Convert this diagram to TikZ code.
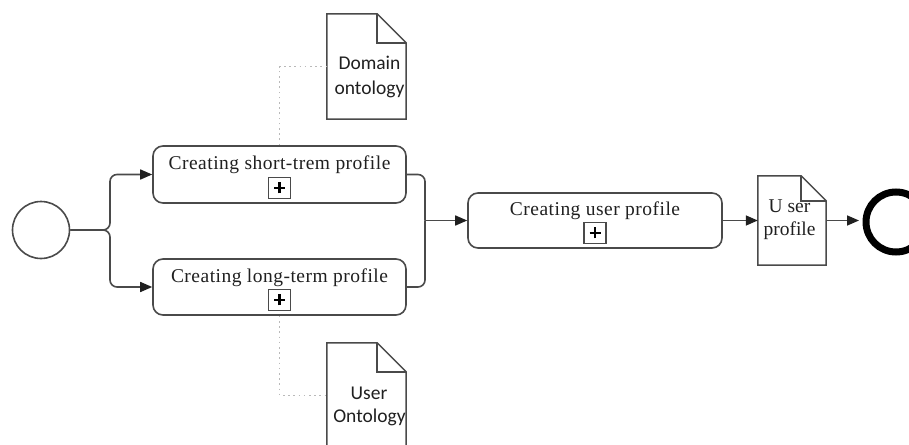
\documentclass[tikz,border=0pt]{standalone}
\usepackage{fontspec}
\setmainfont{Liberation Serif}
\newfontfamily\calib{Carlito}
\newfontfamily\serifls[LetterSpace=2.5]{Liberation Serif}
\usetikzlibrary{arrows.meta,calc}
\definecolor{ln}{HTML}{4A4A4A}
\definecolor{tip}{HTML}{202020}
\definecolor{tx}{HTML}{202020}
\tikzset{
  task/.style={draw=ln, line width=1.6pt, rounded corners=10pt, minimum width=253pt, inner sep=0pt},
  tasktext/.style={anchor=base, inner sep=0pt, text=tx, font=\serifls\fontsize{19.5}{24}\selectfont},
  plusbox/.style={draw=ln, line width=1.5pt, minimum width=22pt, minimum height=21pt, inner sep=0pt},
  docbox/.style={draw=none, inner sep=0pt},
  doctext/.style={anchor=base, inner sep=0pt, text=tx, align=center},
  tipstyle/.style={-{Triangle[length=12pt,width=10pt,color=tip,fill=tip]}},
  flow/.style={draw=ln, line width=1.6pt, tipstyle},
  assoc/.style={draw=gray!55, line width=1.6pt, dash pattern=on 1.6pt off 3.6pt},
}
\newcommand{\docoutline}[2]{%
  \draw[ln, line width=1.5pt] (#1.south west) -- (#1.north west) -- ([xshift=-#2]#1.north east) -- ([yshift=-#2]#1.north east) -- (#1.south east) -- cycle;
  \draw[ln, line width=1.5pt] ([xshift=-#2]#1.north east) -- ([xshift=-#2,yshift=-#2]#1.north east) -- ([yshift=-#2]#1.north east);
}
\newcommand{\plussign}[1]{%
  \draw[black, line width=2.6pt] ([xshift=-5.5pt]#1.center) -- ([xshift=5.5pt]#1.center);
  \draw[black, line width=2.6pt] ([yshift=-5.5pt]#1.center) -- ([yshift=5.5pt]#1.center);
}
\begin{document}
\begin{tikzpicture}[x=1pt,y=-1pt]
\useasboundingbox (0,0) rectangle (909,444);
\clip (0,0) rectangle (909,444);
\fill[white] (0,0) rectangle (909,444);

% start event
\node[draw=ln, line width=1.6pt, circle, minimum size=57pt, inner sep=0pt] (start) at (41,230) {};

% tasks
\node[task, minimum height=57pt] (t1) at (279.5,174.5) {};
\node[tasktext] at ([yshift=-24pt]t1.north) {Creating short-trem profile};
\node[plusbox] (p1) at ([yshift=16pt]t1.south) {};
\plussign{p1}

\node[task, minimum height=56pt] (t2) at (279.5,287) {};
\node[tasktext] at ([yshift=-24pt]t2.north) {Creating long-term profile};
\node[plusbox] (p2) at ([yshift=16pt]t2.south) {};
\plussign{p2}

\node[task, minimum height=55pt, minimum width=254pt] (t3) at (595,220.5) {};
\node[tasktext] at ([yshift=-23pt]t3.north) {Creating user profile};
\node[plusbox] (p3) at ([yshift=16pt]t3.south) {};
\plussign{p3}

% data objects
\node[docbox, minimum width=79pt, minimum height=105pt] (dom) at (366.5,66.5) {};
\docoutline{dom}{29pt}
\node[doctext, font=\calib\fontsize{19.5}{24}\selectfont] at (369.5,69) {Domain};
\node[doctext, font=\calib\fontsize{19.5}{24}\selectfont] at (369.5,94) {ontology};

\node[docbox, minimum width=79pt, minimum height=105pt] (uo) at (366.5,395.5) {};
\docoutline{uo}{29pt}
\node[doctext, font=\calib\fontsize{19.5}{24}\selectfont] at (369,399) {User};
\node[doctext, font=\calib\fontsize{19.5}{24}\selectfont] at (369.5,422) {Ontology};

\node[docbox, minimum width=68pt, minimum height=89pt] (ud) at (792,220.5) {};
\docoutline{ud}{25pt}
\node[doctext, font=\fontsize{19.5}{24}\selectfont] at (789.5,212) {U ser};
\node[doctext, font=\fontsize{19.5}{24}\selectfont] at (789.5,235) {profile};

% end event
\node[draw=black, line width=7pt, circle, minimum size=60pt, inner sep=0pt] (endc) at (896,222) {};

% flows
\coordinate (fork) at (110,230);
\coordinate (merge) at (425,220.5);
\draw[flow, rounded corners=7pt] (start.east) -- (fork) |- (t1.west);
\draw[flow, rounded corners=7pt] (start.east) -- (fork) |- (t2.west);
\draw[draw=ln, line width=1.6pt, rounded corners=7pt] (t1.east) -| (merge);
\draw[draw=ln, line width=1.6pt, rounded corners=7pt] (t2.east) -| (merge);
\draw[flow] (merge) -- (t3.west);
\draw[flow] (t3.east) -- (ud.west);
\draw[flow] (ud.east) -- ([xshift=-3.5pt]ud.east -| endc.west);

% associations
\draw[assoc] (t1.north) |- (dom.west);
\draw[assoc] (t2.south) |- (uo.west);
\end{tikzpicture}
\end{document}
